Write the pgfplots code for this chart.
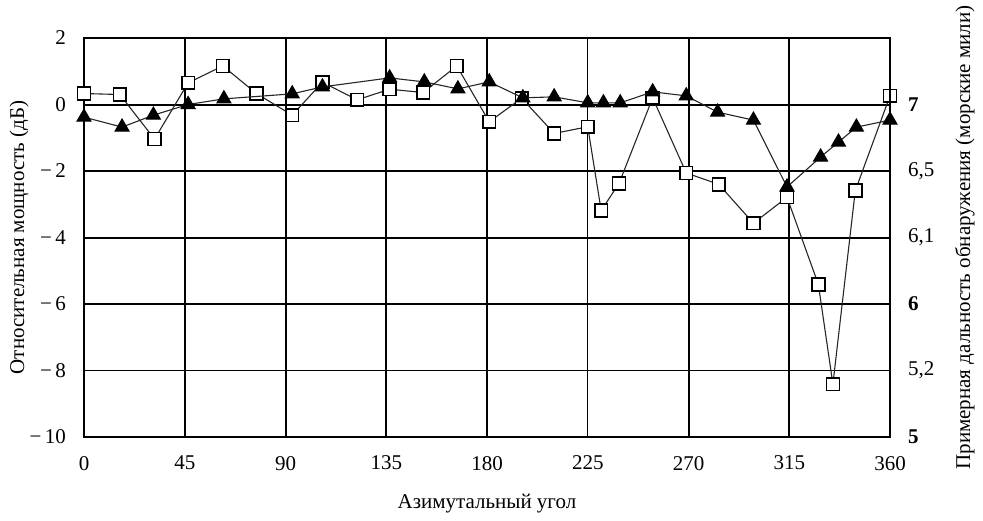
\documentclass[border=0pt]{standalone}
\usepackage{pgfplots}
\pgfplotsset{compat=1.18}
\usepackage{fontspec}
\setmainfont{Liberation Serif}

\pgfplotstableread{
x y
0 0.33
16 0.30
31.5 -1.04
46.5 0.65
62 1.16
77 0.33
93 -0.32
106.5 0.67
122 0.14
136.5 0.46
151.5 0.36
166.5 1.16
181 -0.52
195.5 0.19
210 -0.87
225 -0.67
231 -3.19
239 -2.37
254 0.20
269 -2.06
283.5 -2.40
299 -3.57
314 -2.79
328 -5.41
334.5 -8.41
344.5 -2.59
360 0.26
}\squares

\pgfplotstableread{
x y
0 -0.38
17 -0.68
31 -0.32
46.5 0.0
62.5 0.17
93 0.32
106.5 0.53
136.5 0.80
152 0.68
167 0.47
181 0.68
196 0.20
210 0.23
225 0.05
232 0.05
239.5 0.05
254 0.38
269 0.26
283 -0.23
299 -0.47
314 -2.48
329 -1.58
337 -1.13
345 -0.68
360 -0.47
}\triangles

\begin{document}
\begin{tikzpicture}
\useasboundingbox (-42pt,-41.5pt) rectangle (449.5pt,218.5pt);
\pgfplotsset{
  common/.style={
    scale only axis,
    width=403pt, height=199.5pt,
    xmin=0, xmax=360, ymin=-10, ymax=2,
    major tick length=0pt,
    tick label style={font=\fontsize{10.5}{12}\selectfont},
  }
}
\begin{axis}[
    common,
    axis line style={line width=1pt},
    xtick={0,45,90,135,180,270,315,360},
    xticklabels={0,45,90,135,180,270,315,360},
    extra x ticks={225},
    extra x tick labels={225},
    extra x tick style={grid style={line width=0.65pt}},
    ytick={-10,-6,-4,-2,0,2},
    yticklabels={−\,10,−\,6,−\,4,−\,2,0,2},
    extra y ticks={-8},
    extra y tick labels={−\,8},
    extra y tick style={grid style={line width=0.55pt}},
    grid=major,
    grid style={black, line width=1pt},
    xticklabel style={yshift=-6pt},
    yticklabel style={xshift=-5.5pt},
    xlabel={Азимутальный угол},
    xlabel style={at={(axis description cs:0.5,0)}, anchor=north, yshift=-25pt, font=\fontsize{10.5}{12}\selectfont},
    ylabel={Относительная мощность (дБ)},
    ylabel style={at={(axis description cs:-0.0806,0.5)}, anchor=center, rotate=0, font=\fontsize{10.5}{12}\selectfont},
]
\addplot[black!85, line width=0.55pt, mark=square*, mark size=3.2pt,
  mark options={fill=white, draw=black, line width=0.8pt}] table[x=x,y=y] {\squares};
\end{axis}
\begin{axis}[
    common,
    axis x line=none,
    axis y line*=right,
    axis line style={line width=1pt},
    ytick={-10,-8,-6,-4,-2,0},
    yticklabels={\textbf{5},{5,2},\textbf{6},{6,1},{6,5},\textbf{7}},
    yticklabel style={anchor=west, xshift=5.5pt},
    ylabel={Примерная дальность обнаружения (морские мили)},
    ylabel style={at={(axis description cs:1.093,0.5)}, anchor=center, rotate=0, font=\fontsize{10.5}{12}\selectfont},
]
\addplot[black!85, line width=0.55pt, mark=triangle*, mark size=4pt,
  mark options={fill=black, draw=black}] table[x=x,y=y] {\triangles};
\end{axis}
\end{tikzpicture}
\end{document}
